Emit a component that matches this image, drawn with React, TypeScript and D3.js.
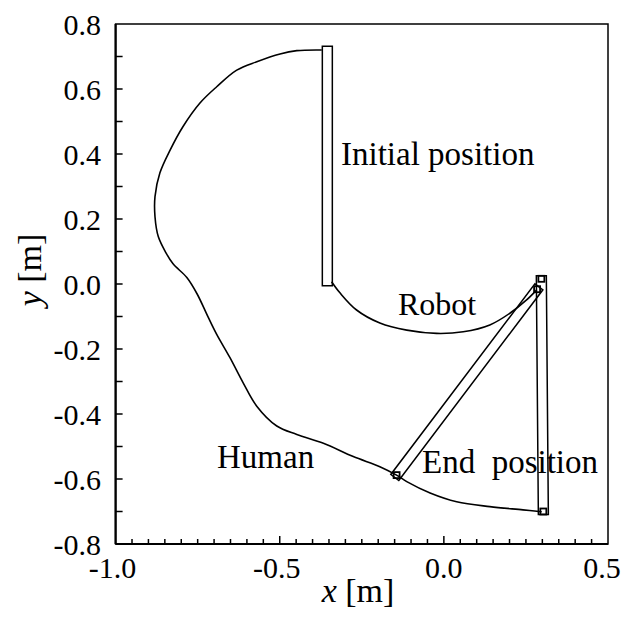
import React, { useEffect, useRef } from 'react';
import * as d3 from 'd3';

// Human hand trajectory (m)
const humanX = [-0.372, -0.448, -0.499, -0.570, -0.631, -0.692, -0.743, -0.795, -0.834, -0.865, -0.880, -0.880, -0.870, -0.846, -0.825, -0.783, -0.752, -0.718, -0.692, -0.652, -0.611, -0.570, -0.509, -0.448, -0.367, -0.276, -0.195, -0.144, -0.113, -0.042, 0.039, 0.140, 0.241, 0.298];
const humanY = [0.720, 0.718, 0.708, 0.684, 0.658, 0.607, 0.557, 0.484, 0.412, 0.342, 0.269, 0.207, 0.146, 0.095, 0.062, 0.020, -0.030, -0.102, -0.155, -0.226, -0.305, -0.376, -0.437, -0.463, -0.490, -0.531, -0.562, -0.588, -0.608, -0.643, -0.670, -0.685, -0.695, -0.701];

// Robot trajectory (m)
const robotX = [-0.342, -0.316, -0.266, -0.195, -0.113, -0.022, 0.059, 0.140, 0.201, 0.252, 0.283];
const robotY = [0.007, -0.028, -0.080, -0.120, -0.142, -0.152, -0.147, -0.126, -0.090, -0.049, -0.018];

// Object (rod) poses: human end and robot end
const rodNames = ['initial', 'middle', 'end'];
const rodHumanX = [-0.355, -0.144, 0.303];
const rodHumanY = [0.722, -0.588, -0.700];
const rodRobotX = [-0.355, 0.284, 0.297];
const rodRobotY = [0.004, -0.016, 0.016];
const rodMarked = [false, true, true];

const yTicks = [0.8, 0.6, 0.4, 0.2, 0.0, -0.2, -0.4, -0.6, -0.8];
const xTicks = [-1.0, -0.5, 0.0, 0.5];

const W = 625;
const H = 618;
const left = 115.6, right = 608, top = 24, bottom = 544;
const FONT = "'Liberation Serif'";

const App = () => {
  const svgRef = useRef<SVGSVGElement>(null);

  const x = d3.scaleLinear().domain([-1.0, 0.5]).range([left, right]);
  const y = d3.scaleLinear().domain([-0.8, 0.8]).range([bottom, top]);

  const line = d3.line<number>()
    .curve(d3.curveCatmullRom.alpha(0.5));

  const humanPath = line.x(i => x(humanX[i])).y(i => y(humanY[i]))(humanX.map((_, i) => i));
  const robotPath = line.x(i => x(robotX[i])).y(i => y(robotY[i]))(robotX.map((_, i) => i));

  const minorX = d3.range(-0.95, 0.499, 0.05);
  const minorY = d3.range(-0.7, 0.799, 0.1);

  // force the serif face on every label
  useEffect(() => {
    d3.select(svgRef.current).selectAll<SVGTextElement, unknown>('text').each(function () {
      this.style.setProperty('font-family', FONT, 'important');
    });
  }, []);

  // rod outline from its two end points, 10px wide
  const rodPoly = (k: number) => {
    const hx = x(rodHumanX[k]), hy = y(rodHumanY[k]);
    const rx = x(rodRobotX[k]), ry = y(rodRobotY[k]);
    const len = Math.hypot(rx - hx, ry - hy);
    const ux = (rx - hx) / len, uy = (ry - hy) / len;
    const px = -uy * 5, py = ux * 5;
    const e = 3;
    const ax = hx - ux * e, ay = hy - uy * e;
    const bx = rx + ux * e, by = ry + uy * e;
    return [[ax + px, ay + py], [bx + px, by + py], [bx - px, by - py], [ax - px, ay - py]]
      .map(p => p.join(',')).join(' ');
  };

  return (
    <div style={{ position: 'absolute', left: 0, top: 0, width: W, height: H, background: '#fff' }}>
      <svg ref={svgRef} width={W} height={H}>
        {/* frame */}
        <rect x={left} y={top} width={right - left} height={bottom - top} fill="none" stroke="#000" strokeWidth={1.5} />
        <line x1={left} x2={left} y1={top} y2={bottom} stroke="#000" strokeWidth={2.2} />
        <line x1={left} x2={right} y1={bottom} y2={bottom} stroke="#000" strokeWidth={2.2} />

        {/* y ticks */}
        {minorY.map((v, i) => (
          <line key={'yt' + i} x1={left} x2={left + 7} y1={y(v)} y2={y(v)} stroke="#000" strokeWidth={1.5} />
        ))}
        {yTicks.map(v => (
          <text key={'yl' + v} x={101} y={y(v) + 10.5} textAnchor="end" style={{ fontFamily: FONT, fontSize: 30 }}>
            {v.toFixed(1)}
          </text>
        ))}

        {/* x ticks */}
        {minorX.map((v, i) => {
          const big = Math.abs(v + 0.5) < 1e-6 || Math.abs(v) < 1e-6;
          return (
            <line key={'xt' + i} x1={x(v)} x2={x(v)} y1={bottom} y2={bottom - (big ? 8 : 5)} stroke="#000" strokeWidth={1.5} />
          );
        })}
        {xTicks.map(v => (
          <text key={'xl' + v} x={x(v) + (v < 0 ? -3 : v > 0 ? -6 : 0)} y={578} textAnchor="middle" style={{ fontFamily: FONT, fontSize: 30 }}>
            {v.toFixed(1)}
          </text>
        ))}

        {/* axis titles */}
        <text x={358} y={602} textAnchor="middle" style={{ fontFamily: FONT, fontSize: 34 }}>
          <tspan style={{ fontStyle: 'italic' }}>x</tspan> [m]
        </text>
        <text transform="translate(41,270) rotate(-90)" textAnchor="middle" style={{ fontFamily: FONT, fontSize: 34 }}>
          <tspan style={{ fontStyle: 'italic' }}>y</tspan> [m]
        </text>

        {/* trajectories */}
        <path d={humanPath || ''} fill="none" stroke="#000" strokeWidth={1.6} />
        <path d={robotPath || ''} fill="none" stroke="#000" strokeWidth={1.6} />

        {/* rods */}
        {rodNames.map((n, k) => (
          <g key={n}>
            <polygon points={rodPoly(k)} fill="none" stroke="#000" strokeWidth={1.5} />
            {rodMarked[k] && (
              <>
                <rect x={x(rodHumanX[k]) - 3} y={y(rodHumanY[k]) - 3} width={6} height={6} fill="none" stroke="#000" strokeWidth={1.8} />
                <rect x={x(rodRobotX[k]) - 3} y={y(rodRobotY[k]) - 3} width={6} height={6} fill="none" stroke="#000" strokeWidth={1.8} />
              </>
            )}
          </g>
        ))}

        {/* annotations */}
        <text x={341} y={165} style={{ fontFamily: FONT, fontSize: 33 }}>Initial position</text>
        <text x={398} y={315} style={{ fontFamily: FONT, fontSize: 32 }}>Robot</text>
        <text x={217} y={468} style={{ fontFamily: FONT, fontSize: 33 }}>Human</text>
        <text x={422} y={473} style={{ fontFamily: FONT, fontSize: 33, whiteSpace: 'pre' }}>{'End  position'}</text>
      </svg>
    </div>
  );
};

export default App;
